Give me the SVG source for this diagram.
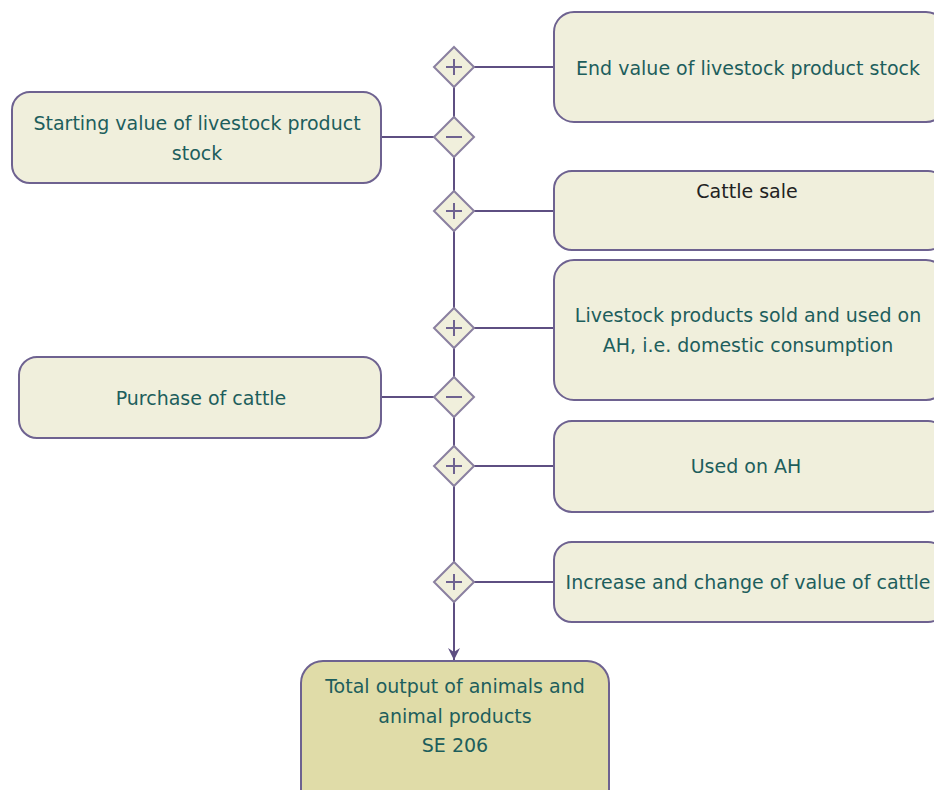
<svg xmlns="http://www.w3.org/2000/svg" width="934" height="790" viewBox="0 0 934 790">
<style>
.box{fill:#f0efdc;stroke:#6e6290;stroke-width:2}
.tot{fill:#e0dca8;stroke:#6e6290;stroke-width:2}
.dia{fill:#f0efdc;stroke:#8a80a0;stroke-width:2}
.sym{stroke:#6e6290;stroke-width:2;fill:none}
.ln{stroke:#5e4f82;stroke-width:2;fill:none}
text{font-family:"DejaVu Sans","Liberation Sans",Arial,sans-serif;font-size:19px;fill:#1d5e5c;text-anchor:middle}
</style>
<defs>
<marker id="arr" markerWidth="14" markerHeight="14" refX="12" refY="7" orient="auto" markerUnits="userSpaceOnUse">
<path d="M0,1 L12,7 L0,13 L4,7 Z" fill="#5e4f82"/>
</marker>
</defs>
<g id="connectors">
<line class="ln" x1="454" y1="67" x2="454" y2="660" marker-end="url(#arr)"/>
<line class="ln" x1="474" y1="67" x2="554" y2="67"/>
<line class="ln" x1="381" y1="137" x2="434" y2="137"/>
<line class="ln" x1="474" y1="211" x2="554" y2="211"/>
<line class="ln" x1="474" y1="328" x2="554" y2="328"/>
<line class="ln" x1="381" y1="397" x2="434" y2="397"/>
<line class="ln" x1="474" y1="466" x2="554" y2="466"/>
<line class="ln" x1="474" y1="582" x2="554" y2="582"/>
</g>
<g id="op1"><path class="dia" d="M454,47 L474,67 L454,87 L434,67 Z"/><path class="sym" d="M446,67 H462 M454,59 V75"/></g>
<g id="op2"><path class="dia" d="M454,117 L474,137 L454,157 L434,137 Z"/><path class="sym" d="M446,137 H462"/></g>
<g id="op3"><path class="dia" d="M454,191 L474,211 L454,231 L434,211 Z"/><path class="sym" d="M446,211 H462 M454,203 V219"/></g>
<g id="op4"><path class="dia" d="M454,308 L474,328 L454,348 L434,328 Z"/><path class="sym" d="M446,328 H462 M454,320 V336"/></g>
<g id="op5"><path class="dia" d="M454,377 L474,397 L454,417 L434,397 Z"/><path class="sym" d="M446,397 H462"/></g>
<g id="op6"><path class="dia" d="M454,446 L474,466 L454,486 L434,466 Z"/><path class="sym" d="M446,466 H462 M454,458 V474"/></g>
<g id="op7"><path class="dia" d="M454,562 L474,582 L454,602 L434,582 Z"/><path class="sym" d="M446,582 H462 M454,574 V590"/></g>
<g id="end-value"><rect class="box" x="554" y="12" width="392" height="110" rx="20"/><text x="748" y="75">End value of livestock product stock</text></g>
<g id="starting-value"><rect class="box" x="12" y="92" width="369" height="91" rx="18"/><text x="197" y="130">Starting value of livestock product</text><text x="197" y="160">stock</text></g>
<g id="cattle-sale"><rect class="box" x="554" y="171" width="392" height="79" rx="18"/><text x="747" y="198" style="fill:#222">Cattle sale</text></g>
<g id="livestock-products"><rect class="box" x="554" y="260" width="392" height="140" rx="20"/><text x="748" y="322">Livestock products sold and used on</text><text x="748" y="352">AH, i.e. domestic consumption</text></g>
<g id="purchase"><rect class="box" x="19" y="357" width="362" height="81" rx="18"/><text x="201" y="405">Purchase of cattle</text></g>
<g id="used-on-ah"><rect class="box" x="554" y="421" width="392" height="91" rx="18"/><text x="746" y="473">Used on AH</text></g>
<g id="increase"><rect class="box" x="554" y="542" width="392" height="80" rx="18"/><text x="748" y="589">Increase and change of value of cattle</text></g>
<g id="total"><rect class="tot" x="301" y="661" width="308" height="150" rx="22"/><text x="455" y="693">Total output of animals and</text><text x="455" y="723">animal products</text><text x="455" y="752">SE 206</text></g>
</svg>
